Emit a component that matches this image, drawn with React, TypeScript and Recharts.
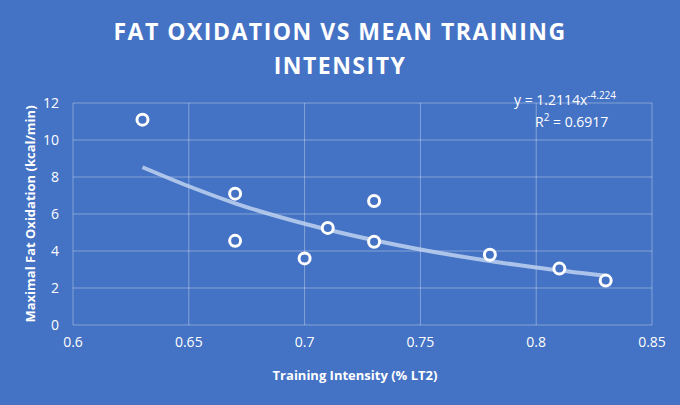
import React from "react";
import { ComposedChart, Scatter, Line, XAxis, YAxis, CartesianGrid } from "recharts";

const intensity = [0.63, 0.67, 0.67, 0.70, 0.71, 0.73, 0.73, 0.78, 0.81, 0.83];
const fatOx = [11.1, 7.1, 4.55, 3.6, 5.25, 6.7, 4.5, 3.8, 3.05, 2.4];
const trendX = [0.63, 0.65, 0.67, 0.70, 0.73, 0.75, 0.78, 0.80, 0.83];
const trendY = [8.53, 7.5, 6.58, 5.47, 4.58, 4.08, 3.46, 3.11, 2.66];
const xTicks = [0.6, 0.65, 0.7, 0.75, 0.8, 0.85];
const yTicks = [0, 2, 4, 6, 8, 10, 12];

const points = intensity.map((x, i) => ({ x, y: fatOx[i] }));
const trend = trendX.map((x, i) => ({ x, t: trendY[i] }));

const font = "'Open Sans', 'Noto Sans', sans-serif";

export default function App() {
  return (
    <div style={{ position: "absolute", left: 0, top: 0, width: 680, height: 405, background: "#4472C4", fontFamily: font, color: "#fff" }}>
      <div style={{ position: "absolute", top: 14, left: 0, width: 680, textAlign: "center", fontSize: 23, fontWeight: 700, letterSpacing: 1.5, lineHeight: "34px" }}>
        FAT OXIDATION VS MEAN TRAINING<br />INTENSITY
      </div>
      <ComposedChart width={680} height={405} margin={{ top: 103, right: 28, bottom: 50, left: 0 }}>
        <CartesianGrid stroke="rgba(255,255,255,0.35)" />
        <XAxis dataKey="x" type="number" domain={[0.6, 0.85]} ticks={xTicks} axisLine={false} tickLine={false}
          tick={{ fill: "#fff", fontSize: 14, fontFamily: font }} tickMargin={6} allowDuplicatedCategory={false} />
        <YAxis type="number" domain={[0, 12]} ticks={yTicks} width={73} axisLine={false} tickLine={false}
          tick={{ fill: "#fff", fontSize: 14, fontFamily: font }} tickMargin={8} />
        <Line data={trend} dataKey="t" type="monotone" stroke="rgba(190,210,240,0.85)" strokeWidth={4} dot={false} isAnimationActive={false} />
        <Scatter data={points} dataKey="y" isAnimationActive={false}
          shape={(p: any) => <circle cx={p.cx} cy={p.cy} r={5.5} fill="#4472C4" stroke="#fff" strokeWidth={3} />} />
      </ComposedChart>
      <div style={{ position: "absolute", left: 0, top: 366, width: 680, paddingLeft: 30, boxSizing: "border-box", textAlign: "center", fontSize: 13, fontWeight: 700 }}>
        Training Intensity (% LT2)
      </div>
      <div style={{ position: "absolute", left: 30, top: 214, width: 0, height: 0 }}>
        <div style={{ position: "absolute", transform: "translate(-50%,-50%) rotate(-90deg)", whiteSpace: "nowrap", fontSize: 13, fontWeight: 700 }}>
          Maximal Fat Oxidation (kcal/min)
        </div>
      </div>
      <div style={{ position: "absolute", left: 514, top: 88, fontSize: 14, whiteSpace: "nowrap" }}>
        y = 1.2114x<sup style={{ fontSize: 10 }}>-4.224</sup>
      </div>
      <div style={{ position: "absolute", left: 535, top: 110, fontSize: 14, whiteSpace: "nowrap" }}>
        R<sup style={{ fontSize: 10 }}>2</sup> = 0.6917
      </div>
    </div>
  );
}
